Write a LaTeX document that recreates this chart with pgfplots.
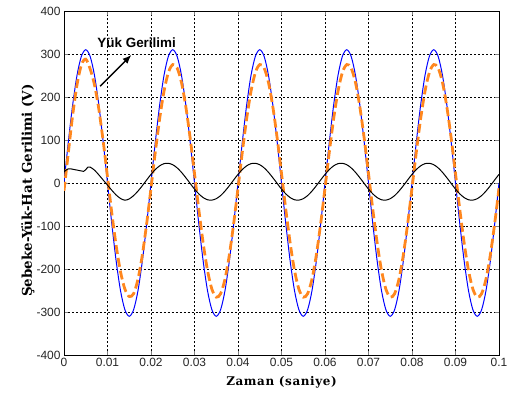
\documentclass[border=0pt]{standalone}
\usepackage{fontspec}
\setmainfont{Liberation Sans}
\newfontfamily\serifb{DejaVu Serif}[LetterSpace=5]
\newfontfamily\serifw{DejaVu Serif}
\usepackage{pgfplots}
\pgfplotsset{compat=1.18}
\usetikzlibrary{arrows.meta}
\definecolor{org}{RGB}{255,135,30}
\begin{document}
\begin{tikzpicture}
\begin{axis}[name=ax,
  scale only axis, width=435bp, height=344bp,
  xmin=0, xmax=0.1, ymin=-400, ymax=400,
  xtick={0,0.01,...,0.1},
  xticklabels={0,0.01,0.02,0.03,0.04,0.05,0.06,0.07,0.08,0.09,0.1},
  ytick={-400,-300,...,400},
  /pgf/number format/assume math mode=true,
  tick label style={font=\fontsize{12}{13}\selectfont, text=black!85},
  scaled x ticks=false,
  tick align=inside, major tick length=4bp,
  grid=major,
  major grid style={black, line width=0.4pt, dash pattern=on 2pt off 2pt},
  axis line style={black, line width=0.6pt},
  xlabel={\serifb\bfseries\fontsize{12}{14}\selectfont Zaman (saniye)},
  ylabel={\serifw\bfseries\fontsize{13.5}{16}\selectfont Şebeke-Yük-Hat Gerilimi (V)},
  xlabel style={at={(axis description cs:0.5,-0.078)}, anchor=center},
  ylabel style={at={(axis description cs:-0.083,0.478)}, anchor=center},
  clip=true,
]
% Blue: grid voltage
\addplot[blue, line width=1pt, smooth] coordinates {
(0,0) (0.001,95.8) (0.002,182.2) (0.003,250.8) (0.004,294.8) (0.005,310) (0.006,294.8) (0.007,250.8) (0.008,182.2) (0.009,95.8)
(0.010,0) (0.011,-95.8) (0.012,-182.2) (0.013,-250.8) (0.014,-294.8) (0.015,-310) (0.016,-294.8) (0.017,-250.8) (0.018,-182.2) (0.019,-95.8)
(0.020,0) (0.021,95.8) (0.022,182.2) (0.023,250.8) (0.024,294.8) (0.025,310) (0.026,294.8) (0.027,250.8) (0.028,182.2) (0.029,95.8)
(0.030,0) (0.031,-95.8) (0.032,-182.2) (0.033,-250.8) (0.034,-294.8) (0.035,-310) (0.036,-294.8) (0.037,-250.8) (0.038,-182.2) (0.039,-95.8)
(0.040,0) (0.041,95.8) (0.042,182.2) (0.043,250.8) (0.044,294.8) (0.045,310) (0.046,294.8) (0.047,250.8) (0.048,182.2) (0.049,95.8)
(0.050,0) (0.051,-95.8) (0.052,-182.2) (0.053,-250.8) (0.054,-294.8) (0.055,-310) (0.056,-294.8) (0.057,-250.8) (0.058,-182.2) (0.059,-95.8)
(0.060,0) (0.061,95.8) (0.062,182.2) (0.063,250.8) (0.064,294.8) (0.065,310) (0.066,294.8) (0.067,250.8) (0.068,182.2) (0.069,95.8)
(0.070,0) (0.071,-95.8) (0.072,-182.2) (0.073,-250.8) (0.074,-294.8) (0.075,-310) (0.076,-294.8) (0.077,-250.8) (0.078,-182.2) (0.079,-95.8)
(0.080,0) (0.081,95.8) (0.082,182.2) (0.083,250.8) (0.084,294.8) (0.085,310) (0.086,294.8) (0.087,250.8) (0.088,182.2) (0.089,95.8)
(0.090,0) (0.091,-95.8) (0.092,-182.2) (0.093,-250.8) (0.094,-294.8) (0.095,-310) (0.096,-294.8) (0.097,-250.8) (0.098,-182.2) (0.099,-95.8)
(0.100,0)
};
% Orange: load voltage
\addplot[org, line width=2.8pt, smooth, dash pattern=on 9pt off 4pt] coordinates {
(0,-18) (0.001,70.8) (0.002,158.2) (0.003,228.8) (0.004,274.8) (0.005,288) (0.006,265.8) (0.007,228.8) (0.008,172.2) (0.009,97.8)
(0.010,14) (0.011,-70.8) (0.012,-146.2) (0.013,-206.8) (0.014,-246.8) (0.015,-264) (0.016,-257.5) (0.017,-223.9) (0.018,-167.8) (0.019,-94.8)
(0.020,-12.1) (0.021,72.4) (0.022,150.2) (0.023,213.8) (0.024,257.0) (0.025,275.5) (0.026,267.5) (0.027,233.9) (0.028,177.8) (0.029,104.8)
(0.030,22.1) (0.031,-62.4) (0.032,-140.2) (0.033,-203.8) (0.034,-247.0) (0.035,-265.5) (0.036,-257.5) (0.037,-223.9) (0.038,-167.8) (0.039,-94.8)
(0.040,-12.1) (0.041,72.4) (0.042,150.2) (0.043,213.8) (0.044,257.0) (0.045,275.5) (0.046,267.5) (0.047,233.9) (0.048,177.8) (0.049,104.8)
(0.050,22.1) (0.051,-62.4) (0.052,-140.2) (0.053,-203.8) (0.054,-247.0) (0.055,-265.5) (0.056,-257.5) (0.057,-223.9) (0.058,-167.8) (0.059,-94.8)
(0.060,-12.1) (0.061,72.4) (0.062,150.2) (0.063,213.8) (0.064,257.0) (0.065,275.5) (0.066,267.5) (0.067,233.9) (0.068,177.8) (0.069,104.8)
(0.070,22.1) (0.071,-62.4) (0.072,-140.2) (0.073,-203.8) (0.074,-247.0) (0.075,-265.5) (0.076,-257.5) (0.077,-223.9) (0.078,-167.8) (0.079,-94.8)
(0.080,-12.1) (0.081,72.4) (0.082,150.2) (0.083,213.8) (0.084,257.0) (0.085,275.5) (0.086,267.5) (0.087,233.9) (0.088,177.8) (0.089,104.8)
(0.090,22.1) (0.091,-62.4) (0.092,-140.2) (0.093,-203.8) (0.094,-247.0) (0.095,-265.5) (0.096,-257.5) (0.097,-223.9) (0.098,-167.8) (0.099,-94.8)
(0.100,-12.1)
};
% Black: line voltage
\addplot[black, line width=1pt, smooth] coordinates {
(0,26) (0.0005,30) (0.001,33) (0.0015,33) (0.002,32) (0.003,30) (0.004,28) (0.0045,27) (0.005,31) (0.0055,37) (0.006,37) (0.007,30) (0.008,19) (0.009,7)
(0.010,-5) (0.011,-17) (0.012,-28) (0.013,-36) (0.014,-40) (0.015,-37) (0.016,-29.3) (0.017,-18.9) (0.018,-6.4) (0.019,7.0)
(0.020,20.1) (0.021,31.4) (0.022,40.0) (0.023,45.0) (0.024,45.8) (0.025,42.5) (0.026,35.3) (0.027,24.9) (0.028,12.4) (0.029,-1.0)
(0.030,-14.1) (0.031,-25.4) (0.032,-34.0) (0.033,-39.0) (0.034,-39.8) (0.035,-36.5) (0.036,-29.3) (0.037,-18.9) (0.038,-6.4) (0.039,7.0)
(0.040,20.1) (0.041,31.4) (0.042,40.0) (0.043,45.0) (0.044,45.8) (0.045,42.5) (0.046,35.3) (0.047,24.9) (0.048,12.4) (0.049,-1.0)
(0.050,-14.1) (0.051,-25.4) (0.052,-34.0) (0.053,-39.0) (0.054,-39.8) (0.055,-36.5) (0.056,-29.3) (0.057,-18.9) (0.058,-6.4) (0.059,7.0)
(0.060,20.1) (0.061,31.4) (0.062,40.0) (0.063,45.0) (0.064,45.8) (0.065,42.5) (0.066,35.3) (0.067,24.9) (0.068,12.4) (0.069,-1.0)
(0.070,-14.1) (0.071,-25.4) (0.072,-34.0) (0.073,-39.0) (0.074,-39.8) (0.075,-36.5) (0.076,-29.3) (0.077,-18.9) (0.078,-6.4) (0.079,7.0)
(0.080,20.1) (0.081,31.4) (0.082,40.0) (0.083,45.0) (0.084,45.8) (0.085,42.5) (0.086,35.3) (0.087,24.9) (0.088,12.4) (0.089,-1.0)
(0.090,-14.1) (0.091,-25.4) (0.092,-34.0) (0.093,-39.0) (0.094,-39.8) (0.095,-36.5) (0.096,-29.3) (0.097,-18.9) (0.098,-6.4) (0.099,7.0)
(0.100,20.1)
};
\node[font=\bfseries\fontsize{13.5}{15}\selectfont] at (axis cs:0.0167,326) {Yük Gerilimi};
\draw[-{Latex[length=9bp,width=7bp]}, line width=1.4pt] (axis cs:0.0083,225) -- (axis cs:0.0155,298);
\end{axis}
\pgfresetboundingbox
\useasboundingbox ([shift={(-64bp,-39bp)}]ax.south west) rectangle ([shift={(14bp,11bp)}]ax.north east);
\end{tikzpicture}
\end{document}
